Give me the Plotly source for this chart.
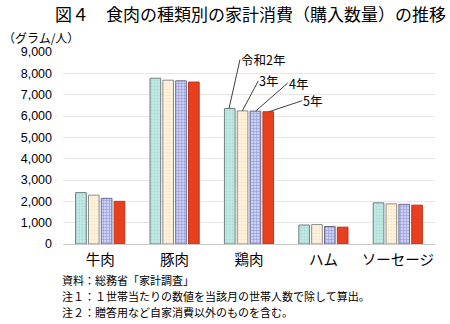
import plotly.graph_objects as go

categories = ["牛肉", "豚肉", "鶏肉", "ハム", "ソーセージ"]
years = ["令和2年", "3年", "4年", "5年"]
r2 = [2410, 7770, 6350, 890, 1930]
r3 = [2290, 7680, 6240, 910, 1880]
r4 = [2140, 7650, 6230, 820, 1860]
r5 = [2000, 7590, 6200, 790, 1820]
yticks = [0, 1000, 2000, 3000, 4000, 5000, 6000, 7000, 8000, 9000]
ytick_text = ["0", "1,000", "2,000", "3,000", "4,000", "5,000", "6,000", "7,000", "8,000", "9,000"]
title = "図４　食肉の種類別の家計消費（購入数量）の推移"
unit = "（グラム/人）"
notes = ["資料：総務省「家計調査」",
         "注１：１世帯当たりの数値を当該月の世帯人数で除して算出。",
         "注２：贈答用など自家消費以外のものを含む。"]

series = [r2, r3, r4, r5]
styles = [
    dict(color="#c3e9e5", marker_pattern=dict(shape=".", fgcolor="#8cc9c3", size=3, solidity=0.3), line="#6f7f7e"),
    dict(color="#fff5e3", marker_pattern=dict(shape=".", fgcolor="#f2c98e", size=3, solidity=0.3), line="#8a8a8a"),
    dict(color="#cdd0f2", marker_pattern=dict(shape="+", fgcolor="#5c62c4", size=3, solidity=0.35), line="#6a6a8a"),
    dict(color="#e8401f", marker_pattern=None, line="#c0351a"),
]

JP = "Noto Sans CJK JP"
W, H = 450, 324
ML, MR, MT, MB = 63, 15, 52, 80
plot_h = H - MT - MB
plot_w = W - ML - MR
def py(y_px):
    return (H - MB - y_px) / plot_h
def px(x_px):
    return (x_px - ML) / plot_w

fig = go.Figure()
for name, vals, st in zip(years, series, styles):
    marker = dict(color=st["color"], line=dict(color=st["line"], width=1))
    if st["marker_pattern"]:
        pat = dict(st["marker_pattern"])
        pat["bgcolor"] = st["color"]
        marker["pattern"] = pat
    fig.add_trace(go.Bar(x=categories, y=vals, name=name, marker=marker, showlegend=False))

# leader-line labels on 鶏肉
label_cfg = [(-20, 11, -49), (-6.7, 16, -30), (6.7, 32, -28), (20, 33, -11)]
for (xs, ax, ay), name, vals in zip(label_cfg, years, series):
    fig.add_annotation(x="鶏肉", y=vals[2], xshift=xs, text=name, showarrow=True,
                       arrowhead=0, arrowwidth=1, arrowcolor="#404040", ax=ax, ay=ay,
                       xanchor="left", font=dict(family=JP, size=12.5, color="#000"),
                       borderpad=0, standoff=0)

fig.add_annotation(text=title, xref="paper", yref="paper", x=px(250), y=py(14), xanchor="center",
                   yanchor="middle", showarrow=False, font=dict(family=JP, size=17, color="#000"))
fig.add_annotation(text=unit, xref="paper", yref="paper", x=px(1), y=py(37), xanchor="left",
                   yanchor="middle", showarrow=False, font=dict(family=JP, size=12, color="#000"))
for n, yy in zip(notes, [280, 296, 312]):
    fig.add_annotation(text=n, xref="paper", yref="paper", x=px(60), y=py(yy),
                       xanchor="left", yanchor="middle", align="left", showarrow=False,
                       font=dict(family=JP, size=11, color="#000"))

fig.update_layout(
    width=W, height=H,
    margin=dict(l=ML, r=MR, t=MT, b=MB),
    paper_bgcolor="white", plot_bgcolor="white",
    barmode="group", bargap=0.31, bargroupgap=0.17,
    xaxis=dict(tickfont=dict(family=JP, size=14.5, color="#000"), showline=False,
               ticklabelstandoff=5),
    yaxis=dict(range=[0, 9000], tickvals=yticks, ticktext=ytick_text,
               tickfont=dict(family="Liberation Sans", size=12.5, color="#000"),
               showgrid=True, gridcolor="#e6e6e6", gridwidth=1,
               zeroline=True, zerolinecolor="#c8c8c8", zerolinewidth=1,
               ticklabelstandoff=10),
)

fig.write_html("out.html")
